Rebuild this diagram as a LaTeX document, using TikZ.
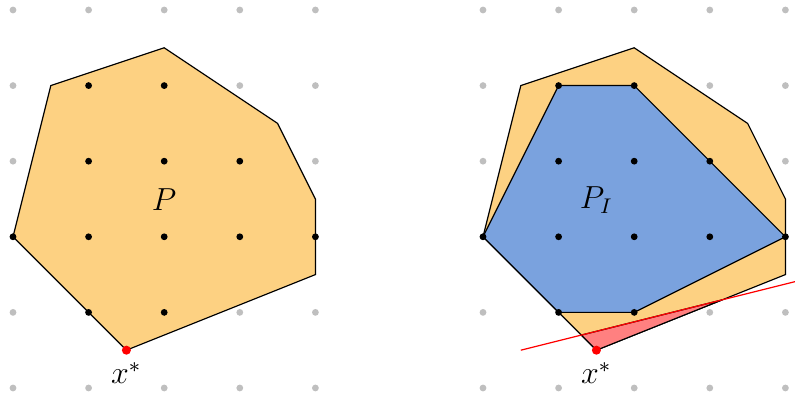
\documentclass[tikz,border=0pt]{standalone}
\usepackage{tikz}
\definecolor{porange}{RGB}{253,209,130}
\definecolor{pblue}{RGB}{122,162,222}
\definecolor{cutred}{RGB}{255,128,128}
\tikzset{
  griddot/.style={fill=black!25},
  intdot/.style={fill=black},
  poly/.style={draw=black, line width=0.45pt, line join=miter},
}
\begin{document}
\begin{tikzpicture}[x=1cm,y=1cm]
\useasboundingbox (-0.172,-0.119) rectangle (10.344,5.132);
% ---------- left panel ----------
\foreach \i in {0,...,4} \foreach \j in {0,...,5} \fill[griddot] (\i,\j) circle (0.045);
\coordinate (a1) at (0,2);
\coordinate (a2) at (0.5,4);
\coordinate (a3) at (2,4.5);
\coordinate (a4) at (3.5,3.5);
\coordinate (a5) at (4,2.5);
\coordinate (a6) at (4,1.5);
\coordinate (xs) at (1.5,0.5);
\filldraw[poly, fill=porange] (a1) -- (a2) -- (a3) -- (a4) -- (a5) -- (a6) -- (xs) -- cycle;
\foreach \p in {(1,4),(2,4),(1,3),(2,3),(3,3),(0,2),(1,2),(2,2),(3,2),(4,2),(1,1),(2,1)} \fill[intdot] \p circle (0.045);
\fill[red] (xs) circle (0.06);
\node (lblP) at (2,2.49) {\large $P$};
\node (lblx) at (1.5,0.2) {\large $x^*$};
% ---------- right panel ----------
\begin{scope}[xshift=6.217cm]
\foreach \i in {0,...,4} \foreach \j in {0,...,5} \fill[griddot] (\i,\j) circle (0.045);
\coordinate (b1) at (0,2);
\coordinate (b2) at (0.5,4);
\coordinate (b3) at (2,4.5);
\coordinate (b4) at (3.5,3.5);
\coordinate (b5) at (4,2.5);
\coordinate (b6) at (4,1.5);
\coordinate (ys) at (1.5,0.5);
\filldraw[poly, fill=porange] (b1) -- (b2) -- (b3) -- (b4) -- (b5) -- (b6) -- (ys) -- cycle;
\coordinate (c1) at (0,2);
\coordinate (c2) at (1,4);
\coordinate (c3) at (2,4);
\coordinate (c4) at (4,2);
\coordinate (c5) at (2,1);
\coordinate (c6) at (1,1);
\filldraw[poly, fill=pblue] (c1) -- (c2) -- (c3) -- (c4) -- (c5) -- (c6) -- cycle;
\coordinate (t1) at (1.3,0.7);
\coordinate (t2) at (3.1667,1.1667);
\filldraw[poly, fill=cutred] (ys) -- (t1) -- (t2) -- cycle;
\coordinate (l1) at (0.5,0.5);
\coordinate (l2) at (4.15,1.4125);
\draw[red, line width=0.45pt] (l1) -- (l2);
\foreach \p in {(1,4),(2,4),(1,3),(2,3),(3,3),(0,2),(1,2),(2,2),(3,2),(4,2),(1,1),(2,1)} \fill[intdot] \p circle (0.045);
\fill[red] (ys) circle (0.06);
\node (lblPI) at (1.5,2.49) {\large $P_I$};
\node (lbly) at (1.5,0.2) {\large $x^*$};
\end{scope}
\end{tikzpicture}
\end{document}
